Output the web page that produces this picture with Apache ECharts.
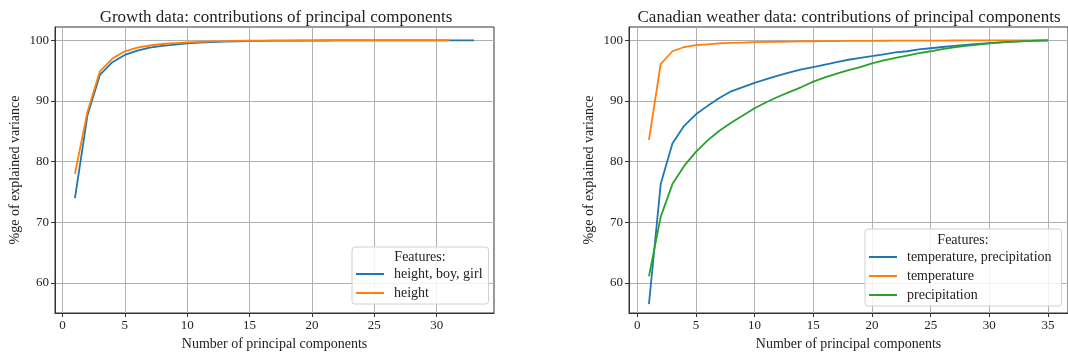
<!DOCTYPE html>
<html>
<head>
<meta charset="utf-8">
<script src="https://cdn.jsdelivr.net/npm/echarts@6/dist/echarts.min.js"></script>
<style>
  html, body { margin: 0; padding: 0; background: #fff; }
  #chart { width: 1068px; height: 358px; }
</style>
</head>
<body>
<div id="chart"></div>
<script>
// 数据：主成分累计解释方差 (%)
var growthAll = [74.0, 87.6, 94.3, 96.4, 97.6, 98.3, 98.8, 99.1, 99.3, 99.5, 99.62, 99.72, 99.8, 99.85, 99.89,
                 99.92, 99.94, 99.95, 99.96, 99.97, 99.975, 99.98, 99.985, 99.99, 99.99, 99.992, 99.994,
                 99.996, 99.997, 99.998, 99.999, 100, 100];
var growthHeight = [78.0, 88.2, 94.9, 97.0, 98.2, 98.8, 99.15, 99.4, 99.55, 99.67, 99.76, 99.83, 99.88, 99.91, 99.93,
                    99.95, 99.96, 99.97, 99.975, 99.98, 99.985, 99.99, 99.99, 99.993, 99.995, 99.996, 99.997,
                    99.998, 99.999, 100, 100];
var weatherAll = [56.5, 76.3, 83.0, 85.9, 87.8, 89.2, 90.5, 91.6, 92.3, 93.0, 93.6, 94.2, 94.7, 95.2, 95.6,
                  96.0, 96.4, 96.8, 97.1, 97.4, 97.7, 98.0, 98.2, 98.5, 98.7, 98.9, 99.1, 99.25, 99.4,
                  99.55, 99.68, 99.8, 99.88, 99.95, 100];
var weatherTemp = [83.6, 96.1, 98.2, 98.9, 99.2, 99.35, 99.5, 99.58, 99.64, 99.7, 99.74, 99.77, 99.8, 99.83, 99.85,
                   99.87, 99.88, 99.9, 99.91, 99.92, 99.93, 99.94, 99.95, 99.955, 99.96, 99.97, 99.975,
                   99.98, 99.985, 99.99, 99.993, 99.995, 99.997, 99.999, 100];
var weatherPrecip = [61.1, 70.9, 76.3, 79.3, 81.6, 83.5, 85.1, 86.4, 87.6, 88.8, 89.8, 90.7, 91.5, 92.3, 93.2,
                     93.9, 94.5, 95.1, 95.6, 96.2, 96.7, 97.1, 97.5, 97.9, 98.2, 98.55, 98.85, 99.1, 99.3,
                     99.5, 99.65, 99.78, 99.88, 99.95, 100];
var growthTicks = [0, 5, 10, 15, 20, 25, 30];
var weatherTicks = [0, 5, 10, 15, 20, 25, 30, 35];
var yTicks = [60, 70, 80, 90, 100];

var FONT = 'Liberation Serif';
var colors = ['#1f77b4', '#ff7f0e', '#2ca02c'];

function pairs(arr) {
    return arr.map(function (v, i) { return [i + 1, v]; });
}

function xAxis(idx, min, max, ticks) {
    return {
        type: 'value', gridIndex: idx, min: min, max: max,
        name: 'Number of principal components', nameLocation: 'middle', nameGap: 23,
        nameTextStyle: { fontFamily: FONT, fontSize: 14, color: '#222' },
        axisLine: { onZero: false, lineStyle: { color: '#333', width: 1 } },
        axisTick: { customValues: ticks, length: 4, lineStyle: { color: '#333' } },
        axisLabel: { customValues: ticks, fontFamily: FONT, fontSize: 13, color: '#222', margin: 6 },
        splitLine: { show: true, lineStyle: { color: '#b0b0b0', width: 1 } }
    };
}

function yAxis(idx) {
    return {
        type: 'value', gridIndex: idx, min: 55.05, max: 102.2,
        name: '%ge of explained variance', nameLocation: 'middle', nameGap: 33,
        nameTextStyle: { fontFamily: FONT, fontSize: 14, color: '#222' },
        axisLine: { onZero: false, lineStyle: { color: '#333', width: 1 } },
        axisTick: { customValues: yTicks, length: 4, lineStyle: { color: '#333' } },
        axisLabel: { customValues: yTicks, fontFamily: FONT, fontSize: 13, color: '#222', margin: 6 },
        splitLine: { show: true, lineStyle: { color: '#b0b0b0', width: 1 } }
    };
}

function line(name, data, xi, color) {
    return {
        name: name, type: 'line', xAxisIndex: xi, yAxisIndex: xi,
        data: pairs(data), symbol: 'none', showSymbol: false,
        lineStyle: { color: color, width: 1.8 }, itemStyle: { color: color },
        animation: false
    };
}

var legendBase = {
    orient: 'vertical', itemWidth: 28, itemHeight: 14, itemGap: 5,
    icon: 'path://M0,0 L28,0 L28,2 L0,2 Z',
    backgroundColor: 'rgba(255,255,255,0.85)', borderColor: '#d0d0d0', borderWidth: 1, borderRadius: 3,
    textStyle: { fontFamily: FONT, fontSize: 14, color: '#222', padding: [0, 0, 0, 5] },
    selectedMode: false, z: 10
};

var myChart = echarts.init(document.getElementById('chart'), null, { renderer: 'canvas' });

var option = {
    backgroundColor: '#fff',
    animation: false,
    title: [
        { text: 'Growth data: contributions of principal components', left: 271, top: 4, textAlign: 'center',
          textStyle: { fontFamily: FONT, fontSize: 17, fontWeight: 'normal', color: '#222' } },
        { text: 'Canadian weather data: contributions of principal components', left: 844, top: 4, textAlign: 'center',
          textStyle: { fontFamily: FONT, fontSize: 17, fontWeight: 'normal', color: '#222' } }
    ],
    grid: [
        { left: 55, top: 27, width: 439, height: 286, show: true, borderColor: '#333', borderWidth: 1, backgroundColor: 'transparent' },
        { left: 629, top: 27, width: 440, height: 286, show: true, borderColor: '#333', borderWidth: 1, backgroundColor: 'transparent' }
    ],
    xAxis: [xAxis(0, -0.6, 34.6, growthTicks), xAxis(1, -0.7, 36.7, weatherTicks)],
    yAxis: [yAxis(0), yAxis(1)],
    legend: [
        Object.assign({}, legendBase, { left: 352, top: 247, padding: [20, 6, 4, 4],
            data: ['height, boy, girl', 'height'] }),
        Object.assign({}, legendBase, { left: 865, top: 229, padding: [21, 10, 4, 4],
            data: ['temperature, precipitation', 'temperature', 'precipitation'] })
    ],
    graphic: [
        { type: 'text', x: 420, y: 257, z: 20,
          style: { text: 'Features:', fontFamily: FONT, fontSize: 14, fill: '#222', align: 'center', verticalAlign: 'middle' } },
        { type: 'text', x: 963, y: 240, z: 20,
          style: { text: 'Features:', fontFamily: FONT, fontSize: 14, fill: '#222', align: 'center', verticalAlign: 'middle' } }
    ],
    series: [
        line('height, boy, girl', growthAll, 0, colors[0]),
        line('height', growthHeight, 0, colors[1]),
        line('temperature, precipitation', weatherAll, 1, colors[0]),
        line('temperature', weatherTemp, 1, colors[1]),
        line('precipitation', weatherPrecip, 1, colors[2])
    ]
};

myChart.setOption(option);
</script>
</body>
</html>
